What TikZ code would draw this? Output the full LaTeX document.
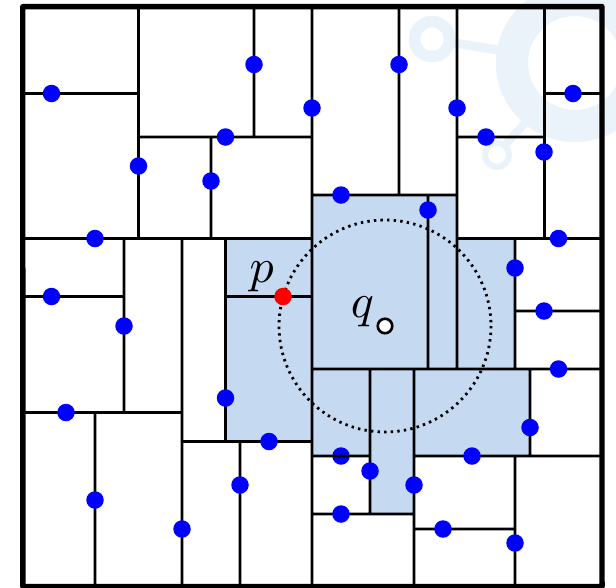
\documentclass[tikz,border=0pt]{standalone}
\definecolor{regionblue}{HTML}{C5D9F1}
\definecolor{markblue}{HTML}{EAF2FA}
\tikzset{
  cellline/.style={black,line width=2.75pt},
  frameline/.style={black,line width=5.4pt,line join=round},
  sitedot/.style={circle,fill=blue,draw=none,minimum size=17.5pt,inner sep=0pt},
  reddot/.style={circle,fill=red,draw=none,minimum size=17.5pt,inner sep=0pt},
  querydot/.style={circle,fill=white,draw=black,line width=2.6pt,minimum size=14.5pt,inner sep=0pt},
  label/.style={inner sep=0pt,scale=4.8},
  rangeline/.style={black,line width=2.8pt,dash pattern=on 2.4pt off 4.2pt},
  markring/.style={markblue,fill=none},
  markarm/.style={markblue},
  nosnap/.style={rotate around={0.01:(312,296)}}
}
\begin{document}
\begin{tikzpicture}[x=1pt,y=-1pt]
\useasboundingbox (0,0) rectangle (616,587);
\clip (0,0) rectangle (616,587);
\fill[white] (0,0) rectangle (616,587);
% watermark
\draw[markring,line width=32pt] (575,63) circle[radius=63];
\draw[markring,line width=11.5pt] (432,39) circle[radius=17.5];
\draw[markring,line width=6pt] (497,155) circle[radius=12];
\draw[markarm,line width=9pt] (454,43) -- (498,50);
\draw[markarm,line width=8pt] (506,144) -- (524,124);
% neighbourhood
\fill[regionblue] (225.5,238.5) -- (312,238.5) -- (312,195) -- (457,195) -- (457,238.5) -- (515,238.5) -- (515,369) -- (530,369) -- (530,456) -- (414,456) -- (414,514) -- (370,514) -- (370,456) -- (312,456) -- (312,441.5) -- (225.5,441.5) -- cycle;
% cell walls
\draw[cellline,nosnap]
  (138.5,7) -- (138.5,238.5)
  (23,93.5) -- (138.5,93.5)
  (138.5,137) -- (312,137)
  (254,7) -- (254,137)
  (312,7) -- (312,586)
  (23,238.5) -- (312,238.5)
  (211,137) -- (211,238.5)
  (399,7) -- (399,195)
  (312,195) -- (457,195)
  (457,7) -- (457,369)
  (457,137) -- (544.5,137)
  (544.5,7) -- (544.5,238.5)
  (544.5,93.5) -- (602,93.5)
  (457,238.5) -- (602,238.5)
  (428,195) -- (428,369)
  (515,238.5) -- (515,369)
  (515,311) -- (602,311)
  (312,369) -- (602,369)
  (370,369) -- (370,514)
  (414,369) -- (414,586)
  (530,369) -- (530,456)
  (414,456) -- (602,456)
  (312,514) -- (414,514)
  (414,529) -- (515,529)
  (515,456) -- (515,586)
  (124,238.5) -- (124,412.5)
  (182,238.5) -- (182,586)
  (225.5,238.5) -- (225.5,441.5)
  (23,296.5) -- (124,296.5)
  (225.5,296.5) -- (312,296.5)
  (23,412.5) -- (182,412.5)
  (95,412.5) -- (95,586)
  (182,441.5) -- (312,441.5)
  (240,441.5) -- (240,586);
% range circle
\coordinate (qc) at (385,326);
\draw[rangeline] (qc) circle[radius=106];
% frame
\draw[frameline,nosnap] (22.8,6.6) -- (602,6.6) -- (602,586.5) -- (22.8,586.5) -- cycle;
% sites
\foreach \px/\py [count=\i] in {51.5/93.5,254/64.5,312/108,399/64.5,457/108,573/93.5,225.5/137,138.5/166,211/181,486/137,544/152,341/195,428/210,95/238.5,558.5/238.5,51.5/296.5,515/268,544/311,124/326,558.5/369,225.5/398,66/412.5,269/441.5,530/427.5,341/456,472/456,370/471,414/485,240/485,95/500,182/529,341/514,443/529,515/543}
  \node[sitedot,name=s\i] at (\px,\py) {};
% wall segment that lies over its site
\draw[cellline,nosnap] (312,456) -- (370,456);
\node[reddot] (pdot) at (283,296.5) {};
\node[querydot] (qdot) at (qc) {};
\node[label] (plabel) at (261.7,276.5) {$p$};
\node[label] (qlabel) at (362.5,311.5) {$q$};
\end{tikzpicture}
\end{document}
